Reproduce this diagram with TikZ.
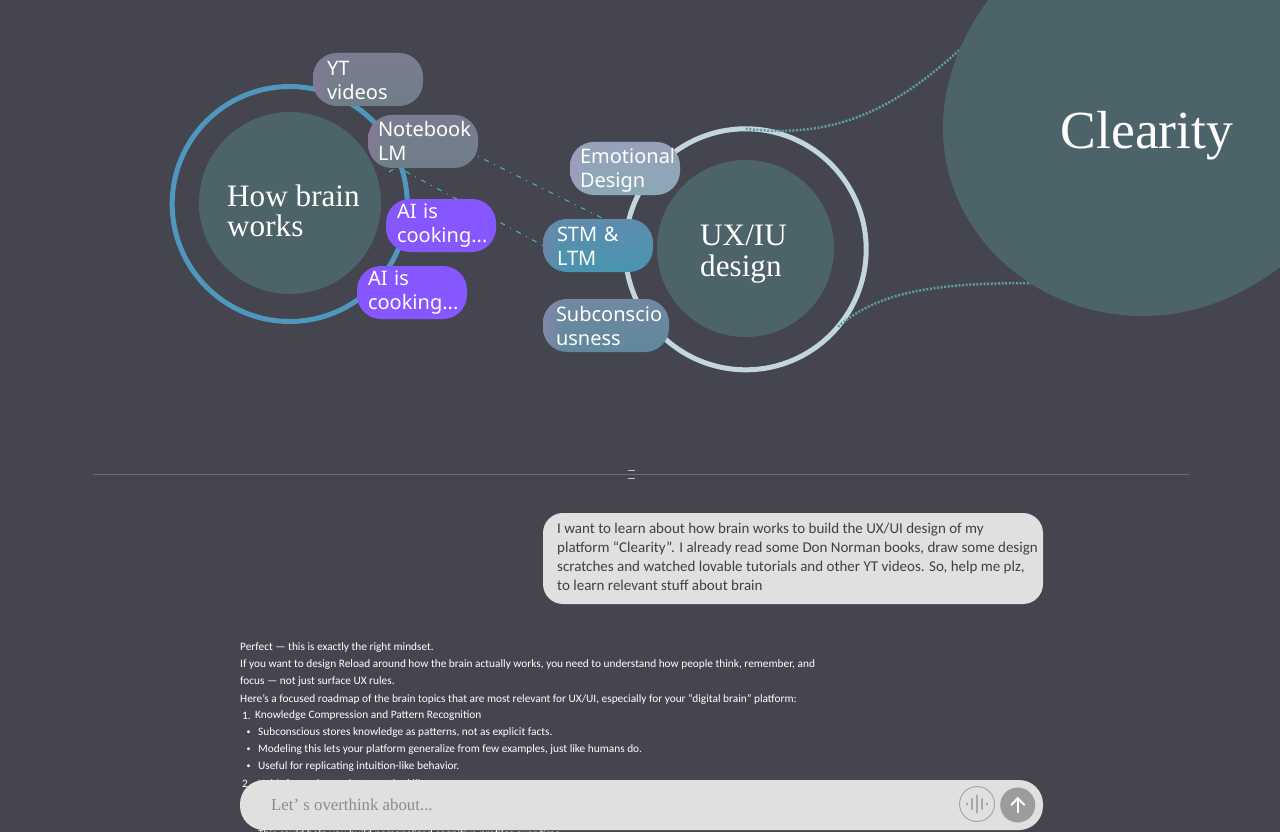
\documentclass[tikz,border=0pt]{standalone}
\usepackage{fontspec}
\usetikzlibrary{fadings}
\setmainfont{Liberation Serif}
\newfontfamily\pillfont{Noto Sans}
\newfontfamily\chatfont{Carlito}
\newcommand\twolines[3]{\rule{0pt}{#1pt}\mbox{#2}\\\mbox{#3}\rule[-5pt]{0pt}{5pt}}
\definecolor{pagebg}{HTML}{45454F}
\definecolor{discfill}{HTML}{4D636A}
\definecolor{ringblue}{HTML}{4F97BD}
\definecolor{ringpale}{HTML}{C3D6E0}
\definecolor{linkteal}{HTML}{3DBDB8}
\definecolor{dotteal}{HTML}{5F9C9E}
\definecolor{bubble}{HTML}{E0E0E0}
\definecolor{chatdark}{HTML}{3F3F46}
\definecolor{holder}{HTML}{8C8C8C}
\definecolor{iconhue}{HTML}{A8A8A8}
\definecolor{sendhue}{HTML}{9C9C9C}
\definecolor{rulehue}{HTML}{6C6C76}
\definecolor{purplehue}{HTML}{8656FF}
\definecolor{ytA}{HTML}{857A96}\definecolor{ytB}{HTML}{6F7F88}
\definecolor{emoA}{HTML}{A09CBE}\definecolor{emoB}{HTML}{8BA9B6}
\definecolor{stmA}{HTML}{6F86AC}\definecolor{stmB}{HTML}{4A95B0}
\definecolor{subA}{HTML}{8088A8}\definecolor{subB}{HTML}{60899C}
\pgfdeclarehorizontalshading{shYT}{100bp}{color(0bp)=(ytA); color(25bp)=(ytA); color(33bp)=(ytB); color(100bp)=(ytB)}
\pgfdeclarehorizontalshading{shEmo}{100bp}{color(0bp)=(emoA); color(25bp)=(emoA); color(33bp)=(emoB); color(100bp)=(emoB)}
\pgfdeclarehorizontalshading{shStm}{100bp}{color(0bp)=(stmA); color(25bp)=(stmA); color(33bp)=(stmB); color(100bp)=(stmB)}
\pgfdeclarehorizontalshading{shSub}{100bp}{color(0bp)=(subA); color(25bp)=(subA); color(33bp)=(subB); color(100bp)=(subB)}
\tikzfading[name=topedge, top color=transparent!45, middle color=transparent!100, bottom color=transparent!100]
\pgfdeclarelayer{ringlayer}
\pgfdeclarelayer{linklayer}
\pgfsetlayers{ringlayer,linklayer,main}
\tikzset{
  ringnode/.style={circle,inner sep=0pt,outer sep=0pt,line width=5pt,minimum size=#1},
  discnode/.style={circle,inner sep=0pt,outer sep=0pt,fill=discfill,minimum size=#1},
  titletext/.style={text=white,align=left,inner sep=0pt,font=\fontsize{31.2}{30.5}\selectfont},
  pillbox/.style n args={2}{rectangle,rounded corners=24pt,minimum height=53pt,inner ysep=0pt,
     outer sep=0pt,inner xsep=#2,text width=#1-2*#2,align=left,text=white,
     font=\pillfont\fontsize{20}{24}\selectfont},
  softedge/.style={postaction={fill=#1,path fading=topedge}},
  aipill/.style={fill=purplehue},
  linkdash/.style={draw=linkteal,line width=1pt,dash pattern=on 5pt off 6pt on 1pt off 6pt},
  linkdots/.style={draw=dotteal,line width=2.5pt,dash pattern=on 2pt off 1.6pt},
  chatline/.style={text=white,anchor=west,inner sep=0pt,font=\chatfont\fontsize{11.33}{17}\selectfont},
  chatdot/.style={text=white,anchor=center,inner sep=0pt,font=\chatfont\fontsize{8}{10}\selectfont},
}
\begin{document}
\begin{tikzpicture}[x=1pt,y=-1pt]
\useasboundingbox (0,0) rectangle (1280,832);
\begin{pgfonlayer}{ringlayer}
  \fill[pagebg] (0,0) rectangle (1280,832);
  \node[ringnode=235pt,draw=ringblue] (brainring) at (289.7,204) {};
  \node[ringnode=241pt,draw=ringpale] (uxring) at (745.7,249.3) {};
\end{pgfonlayer}

\node[discnode=182pt] (braindisc) at (290,203) {};
\node[discnode=177pt] (uxdisc) at (745.5,248.5) {};
% large disc, cut by the page
\fill[discfill] (1000,-15) .. controls (962,30) and (943,80) .. (943,128)
   .. controls (943,232) and (1033,316) .. (1143,316)
   .. controls (1200,316) and (1255,292) .. (1300,250)
   -- (1320,-30) -- cycle;
\coordinate (clearitytop) at (966,44);
\coordinate (clearitylow) at (1036,283);

\node[titletext,anchor=west] (brainlabel) at (227,211) {How brain\\works};
\node[titletext,anchor=west] (uxlabel) at (700,254) {UX/IU\\design};
\node[text=white,inner sep=0pt,font=\fontsize{53.6}{55}\selectfont] (clearitylabel) at (1147,136) {Clearity};

% pills
\node[pillbox={110pt}{14pt},shading=shYT,softedge=ytA] (yt) at (368,79.5) {\twolines{21}{YT}{videos}};
\node[pillbox={110pt}{10pt},shading=shYT,softedge=ytA] (notebook) at (423,141.5) {\twolines{20}{Notebook}{LM}};
\node[pillbox={110pt}{11pt},aipill] (aione) at (441,225.5) {\twolines{15}{AI is}{cooking...}};
\node[pillbox={110pt}{11pt},aipill] (aitwo) at (412,292.5) {\twolines{15}{AI is}{cooking...}};
\node[pillbox={110pt}{10pt},shading=shEmo,softedge=emoA] (emotional) at (625,168.5) {\twolines{19}{Emotional}{Design}};
\node[pillbox={110pt}{14pt},shading=shStm,softedge=stmA] (stm) at (598,245.5) {\twolines{21}{STM \&}{LTM}};
\node[pillbox={126pt}{13pt},shading=shSub,softedge=subA] (subcon) at (606,325.5) {\twolines{21}{Subconscio}{usness}};

% connectors
\begin{pgfonlayer}{linklayer}
  \coordinate (linkstart) at (389,172);
  \draw[linkdash] (linkstart) .. controls (392,169.5) and (395,168) .. (400,168.5) -- (stm.west);
  \draw[linkdash] (notebook.east) ++(-10,10) -- (602,218);
  \draw[linkdots] (uxring.north) .. controls (840,140) and (900,105) .. (clearitytop);
  \draw[linkdots] (uxring.320) .. controls (880,290) and (940,283) .. (clearitylow);
\end{pgfonlayer}

% divider
\coordinate (ruleleft) at (93,474.5);
\coordinate (ruleright) at (1189,474.5);
\draw[rulehue,line width=1pt] (ruleleft) -- (ruleright);
\draw[iconhue!70!white,line width=1pt] (628,470) -- (635,470) (628,478) -- (635,478);

% user bubble
\node[fill=bubble,rounded corners=20pt,minimum width=500pt,minimum height=91pt,inner sep=0pt,outer sep=0pt] (userbubble) at (793,558.5) {};
\node[anchor=west,inner sep=0pt,align=left,text=chatdark,font=\chatfont\fontsize{15}{19}\selectfont] (usertext) at (557,557)
 {I want to learn about how brain works to build the UX/UI design of my\\
  platform “Clearity”. I already read some Don Norman books, draw some design\\
  scratches and watched lovable tutorials and other YT videos. So, help me plz,\\
  to learn relevant stuff about brain};

% reply text
\node[chatline] (r1) at (240,648) {Perfect — this is exactly the right mindset.};
\node[chatline] (r2) at (240,665) {If you want to design Reload around how the brain actually works, you need to understand how people think, remember, and};
\node[chatline] (r3) at (240,682) {focus — not just surface UX rules.};
\node[chatline] (r4) at (240,699) {Here’s a focused roadmap of the brain topics that are most relevant for UX/UI, especially for your “digital brain” platform:};
\node[chatline] (r5) at (242,716) {1.};
\node[chatline] (r5b) at (255,716) {Knowledge Compression and Pattern Recognition};
\node[chatdot] (r6) at (248.5,733) {•};
\node[chatline] (r6b) at (258,733) {Subconscious stores knowledge as patterns, not as explicit facts.};
\node[chatdot] (r7) at (248.5,750) {•};
\node[chatline] (r7b) at (258,750) {Modeling this lets your platform generalize from few examples, just like humans do.};
\node[chatdot] (r8) at (248.5,767) {•};
\node[chatline] (r8b) at (258,767) {Useful for replicating intuition-like behavior.};
\node[chatline] (r9) at (242,784) {2.};
\node[chatline] (r9b) at (258,784) {Habit formation and automatic skills};
\node[chatline] (r10) at (258,835) {This could help you build personalized cognitive profiles over time};

% input bar
\node[fill=bubble,rounded corners=24pt,minimum width=803pt,minimum height=50pt,inner sep=0pt,outer sep=0pt] (inputbar) at (641.5,805) {};
\node[anchor=west,inner sep=0pt,text=holder,font=\fontsize{16.8}{20}\selectfont] (holdertext) at (271,804.5) {Let’ s overthink about...};
\node[circle,draw=iconhue,line width=1pt,minimum size=35pt,inner sep=0pt,outer sep=0pt] (micbtn) at (977,804) {};
\draw[iconhue,line width=2.2pt,line cap=round]
  (966.7,803.5) -- (966.7,804.5)
  (972.2,799) -- (972.2,809)
  (977.2,795.5) -- (977.2,812.5)
  (982.2,799) -- (982.2,809)
  (987,803.5) -- (987,804.5);
\node[circle,fill=sendhue,minimum size=35pt,inner sep=0pt,outer sep=0pt] (sendbtn) at (1017.7,805) {};
\draw[white,line width=2pt] (1017.8,812.8) -- (1017.8,798.5);
\draw[white,line width=2pt] (1011,805.2) -- (1017.8,798.2) -- (1024.6,805.2);
\end{tikzpicture}
\end{document}
